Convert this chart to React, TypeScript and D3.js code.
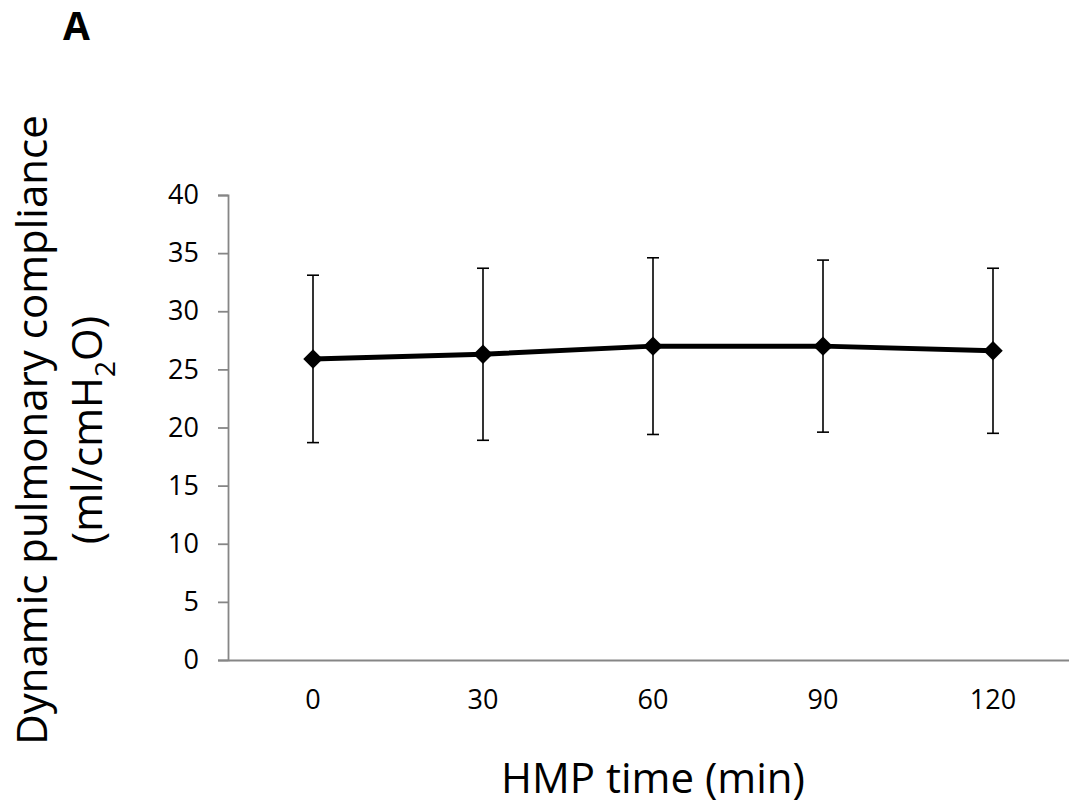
import React, { useEffect, useRef } from "react";
import * as d3 from "d3";

const categories = ["0", "30", "60", "90", "120"];
const means = [25.9, 26.3, 27.0, 27.0, 26.6];
const errors = [7.2, 7.4, 7.6, 7.4, 7.1];
const yTicks = [0, 5, 10, 15, 20, 25, 30, 35, 40];

const W = 1069;
const H = 806;
const FONT = "'Open Sans', sans-serif";

export default function App() {
  const ref = useRef<SVGSVGElement>(null);

  useEffect(() => {
    const svg = d3.select(ref.current);
    svg.selectAll("*").remove();

    const x = d3.scaleBand().domain(categories).range([228, 1078]);
    const y = d3.scaleLinear().domain([0, 40]).range([660, 195]);
    const cx = (c: string) => (x(c) as number) + x.bandwidth() / 2;

    // y axis
    const yAxis = svg.append("g")
      .attr("transform", "translate(228,0)")
      .call(d3.axisLeft(y).tickValues(yTicks).tickSize(10).tickPadding(19).tickFormat(d3.format("d")));
    yAxis.selectAll("line, path").attr("stroke", "#868686").attr("stroke-width", 1.8);
    yAxis.selectAll("text").attr("font-family", FONT).attr("font-size", 27).attr("fill", "#000");

    // x axis
    const xAxis = svg.append("g")
      .attr("transform", "translate(0,660)")
      .call(d3.axisBottom(x).tickSize(0).tickPadding(30).tickSizeOuter(0));
    xAxis.selectAll("path").attr("stroke", "#868686").attr("stroke-width", 1.8);
    xAxis.selectAll("text").attr("font-family", FONT).attr("font-size", 27).attr("fill", "#000");

    const pts = categories.map((c, i) => ({ c, m: means[i], e: errors[i] }));

    // error bars
    const eb = svg.append("g").attr("stroke", "#000").attr("stroke-width", 1.6);
    pts.forEach((p) => {
      eb.append("line").attr("x1", cx(p.c)).attr("x2", cx(p.c))
        .attr("y1", y(p.m - p.e)).attr("y2", y(p.m + p.e));
      [p.m - p.e, p.m + p.e].forEach((v) => {
        eb.append("line").attr("x1", cx(p.c) - 6).attr("x2", cx(p.c) + 6)
          .attr("y1", y(v)).attr("y2", y(v));
      });
    });

    // line
    const line = d3.line<{ c: string; m: number }>().x((d) => cx(d.c)).y((d) => y(d.m));
    svg.append("path").datum(pts).attr("d", line)
      .attr("fill", "none").attr("stroke", "#000").attr("stroke-width", 5)
      .attr("stroke-linejoin", "round");

    // markers
    const sym = d3.symbol().type(d3.symbolSquare).size(190);
    svg.append("g").selectAll("path").data(pts).enter().append("path")
      .attr("d", sym)
      .attr("transform", (d) => `translate(${cx(d.c)},${y(d.m)}) rotate(45)`)
      .attr("fill", "#000");

    // x title
    svg.append("text").attr("x", 653).attr("y", 793).attr("text-anchor", "middle")
      .attr("font-family", FONT).attr("font-size", 42).text("HMP time (min)");

    // y title
    const yt = svg.append("g").attr("font-family", FONT).attr("font-size", 42).attr("text-anchor", "middle");
    yt.append("text").attr("transform", "translate(47,430) rotate(-90)").text("Dynamic pulmonary compliance");
    const t2 = yt.append("text").attr("transform", "translate(102,430) rotate(-90)");
    t2.append("tspan").text("(ml/cmH");
    t2.append("tspan").attr("font-size", 28).attr("dy", 13).text("2");
    t2.append("tspan").attr("dy", -13).text("O)");

    // panel label
    svg.append("text").attr("x", 63).attr("y", 40).attr("font-family", FONT)
      .attr("font-weight", "bold").attr("font-size", 39).text("A");
  }, []);

  return (
    <div style={{ position: "absolute", left: 0, top: 0 }}>
      <svg ref={ref} width={W} height={H} style={{ display: "block", background: "#fff" }} />
    </div>
  );
}
